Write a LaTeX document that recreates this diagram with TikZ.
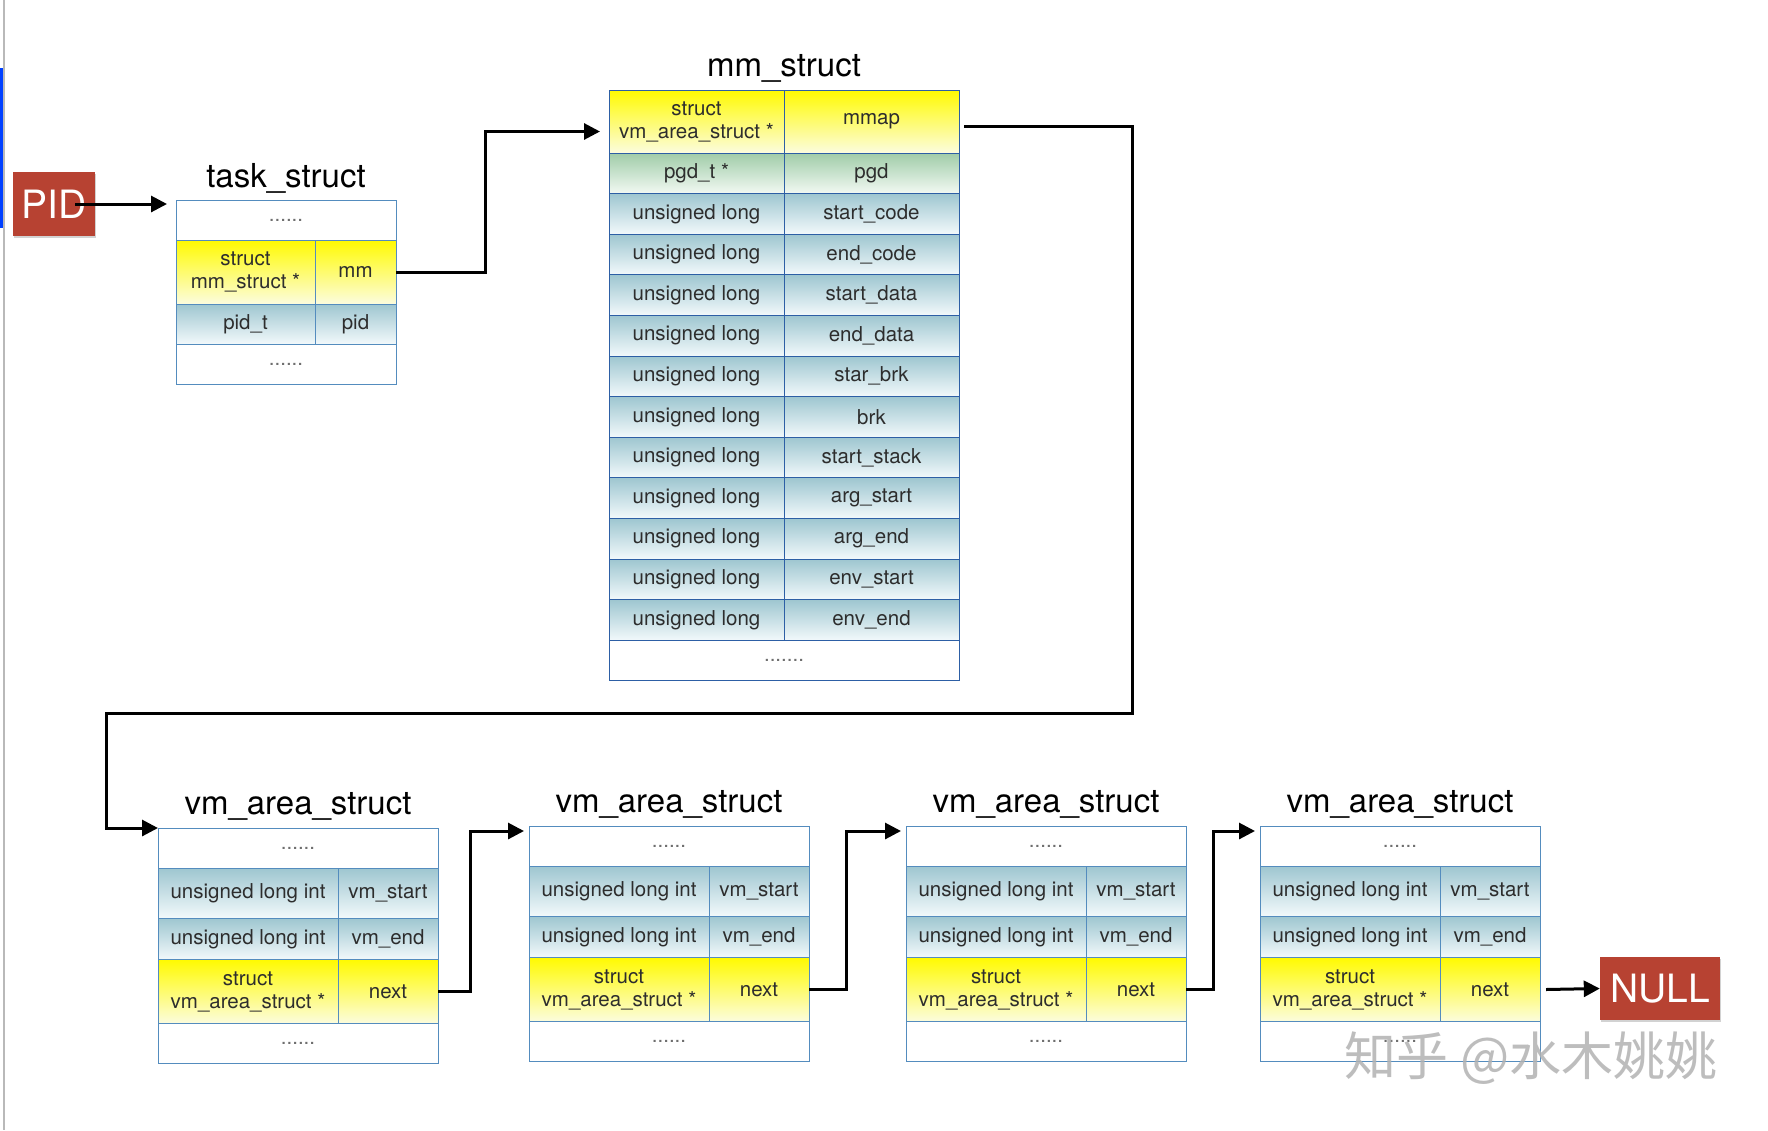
\documentclass[tikz,border=0pt]{standalone}
\usepackage{fontspec}
\setmainfont{TeX Gyre Heros}
\newfontfamily\cjk{Noto Sans CJK SC}
\usetikzlibrary{arrows.meta,shadows}

\definecolor{cellline}{RGB}{84,140,190}
\definecolor{mmline}{RGB}{45,95,165}
\definecolor{celltext}{RGB}{45,45,45}
\definecolor{dottext}{RGB}{110,110,110}
\definecolor{bluetop}{RGB}{158,198,208}
\definecolor{bluebot}{RGB}{242,249,251}
\definecolor{greentop}{RGB}{160,204,168}
\definecolor{greenbot}{RGB}{242,249,243}
\definecolor{yeltop}{RGB}{255,250,0}
\definecolor{yelmid}{RGB}{253,250,80}
\definecolor{yelbot}{RGB}{252,252,222}
\definecolor{brick}{RGB}{183,66,50}

\tikzset{
  cell/.style={draw=cellline, line width=1pt, inner sep=0pt, outer sep=0pt,
    anchor=north west, align=center, text=celltext,
    font=\fontsize{20.5}{23}\selectfont},
  bluecell/.style={cell, top color=bluetop, bottom color=bluebot},
  greencell/.style={cell, top color=greentop, bottom color=greenbot},
  yellowcell/.style={cell, top color=yeltop, middle color=yelmid, bottom color=yelbot},
  blankcell/.style={cell, fill=white, text=dottext},
  structtitle/.style={anchor=base, font=\fontsize{33}{38}\selectfont},
  redbox/.style={fill=brick, text=white, inner sep=0pt,
    font=\fontsize{39}{44}\selectfont,
    drop shadow={shadow xshift=1pt, shadow yshift=-2pt, opacity=0.35}},
  link/.style={line width=3pt, -{Triangle[length=16pt,width=16pt]}},
}

\begin{document}
\begin{tikzpicture}[x=1pt,y=-1pt]
  \useasboundingbox (0,0) rectangle (1768,1130);
  \fill[white] (0,0) rectangle (1768,1130);
  % window edge
  \fill[gray!55] (3,0) rectangle (5,1130);
  \fill[blue!75!cyan] (0,68) rectangle (3,228);

  % PID and task_struct
  \node[redbox, minimum width=82pt, minimum height=64pt] (pid) at (54,204) {PID};
  \node[blankcell, minimum width=220pt, minimum height=40pt] (task-top) at (176,200) {......};
  \node[yellowcell, minimum width=139pt, minimum height=64pt] (task-ml) at (task-top.south west) {struct\\mm\_struct *};
  \node[yellowcell, minimum width=81pt, minimum height=64pt] (task-mr) at (task-ml.north east) {mm};
  \node[bluecell, minimum width=139pt, minimum height=40pt] (task-pl) at (task-ml.south west) {pid\_t};
  \node[bluecell, minimum width=81pt, minimum height=40pt] (task-pr) at (task-pl.north east) {pid};
  \node[blankcell, minimum width=220pt, minimum height=40pt] (task-bot) at (task-pl.south west) {......};
  \node[structtitle] (task-title) at ([yshift=13pt]task-top.north) {task\_struct};

  % mm_struct
  \node[yellowcell, draw=mmline, minimum width=175pt, minimum height=63pt] (mm-l1) at (609,90) {struct\\vm\_area\_struct *};
  \node[yellowcell, draw=mmline, minimum width=175pt, minimum height=63pt] (mm-r1) at (784,90) {mmap};
  \node[greencell, draw=mmline, minimum width=175pt, minimum height=40.6pt] (mm-l2) at (609,153) {pgd\_t *};
  \node[greencell, draw=mmline, minimum width=175pt, minimum height=40.6pt] (mm-r2) at (784,153) {pgd};
  \foreach \field [count=\i from 3] in {start\_code,end\_code,start\_data,end\_data,star\_brk,brk,
      start\_stack,arg\_start,arg\_end,env\_start,env\_end} {
    \pgfmathsetmacro\rowtop{153+40.6*(\i-2)}
    \node[bluecell, draw=mmline, minimum width=175pt, minimum height=40.6pt] (mm-l\i) at (609,\rowtop) {unsigned long};
    \node[bluecell, draw=mmline, minimum width=175pt, minimum height=40.6pt] (mm-r\i) at (784,\rowtop) {\field};
  }
  \node[blankcell, draw=mmline, minimum width=350pt, minimum height=40.6pt] (mm-bot) at (mm-l13.south west) {.......};
  \node[structtitle] (mm-title) at ([yshift=14pt]mm-l1.north -| mm-bot.north) {mm\_struct};

  % vm_area_struct list
  \foreach \k/\bx/\by in {1/158/828, 2/529/826, 3/906/826, 4/1260/826} {
    \node[blankcell, minimum width=280pt, minimum height=40pt] (vm\k-top) at (\bx,\by) {......};
    \node[bluecell, minimum width=180pt, minimum height=50pt] (vm\k-sl) at (vm\k-top.south west) {unsigned long int};
    \node[bluecell, minimum width=100pt, minimum height=50pt] (vm\k-sr) at (vm\k-sl.north east) {vm\_start};
    \node[bluecell, minimum width=180pt, minimum height=41.5pt] (vm\k-el) at (vm\k-sl.south west) {unsigned long int};
    \node[bluecell, minimum width=100pt, minimum height=41.5pt] (vm\k-er) at (vm\k-el.north east) {vm\_end};
    \node[yellowcell, minimum width=180pt, minimum height=64pt] (vm\k-nl) at (vm\k-el.south west) {struct\\vm\_area\_struct *};
    \node[yellowcell, minimum width=100pt, minimum height=64pt] (vm\k-nr) at (vm\k-nl.north east) {next};
    \node[blankcell, minimum width=280pt, minimum height=39.5pt] (vm\k-bot) at (vm\k-nl.south west) {......};
    \node[structtitle] (vm\k-title) at ([yshift=14pt]vm\k-top.north) {vm\_area\_struct};
  }
  \node[redbox, minimum width=120pt, minimum height=63pt] (null) at (1660,988.5) {NULL};

  % pointers
  \draw[link] ([xshift=-20pt]pid.east) -- ([xshift=-9pt]pid.east -| task-top.west);
  \draw[link] (task-mr.east) -- ++(89,0) |- ([xshift=-9pt,yshift=-10pt]mm-l1.west);
  \coordinate (turn-r) at (1132,713);
  \coordinate (turn-l) at (106,713);
  \draw[link] ([xshift=5pt,yshift=-5pt]mm-r1.east) -| (turn-r) -- (turn-l) |- (vm1-top.north west);
  \foreach \a/\b/\d in {1/2/32, 2/3/37, 3/4/27}
    \draw[link] (vm\a-nr.east) -- ++(\d,0) |- ([xshift=-5pt,yshift=15pt]vm\b-top.west);
  \draw[link] ([xshift=6pt]vm4-nr.east) -- (null.west);

  % watermark
  \node[font=\cjk\fontsize{52}{56}\selectfont, text=gray!60, opacity=0.85] (mark) at (1531,1058) {知乎 @水木姚姚};
\end{tikzpicture}
\end{document}
